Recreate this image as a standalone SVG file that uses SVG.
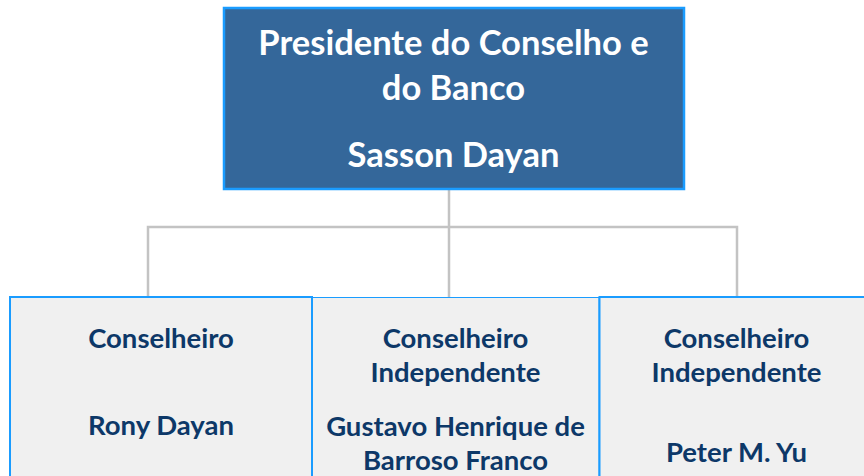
<svg xmlns="http://www.w3.org/2000/svg" width="864" height="476" viewBox="0 0 864 476">
<style>
.top{fill:#34679a;stroke:#1a9cff;stroke-width:2.5}
.sub{fill:#f0f0f0;stroke:#1a9cff}
.tt{font-family:"Lato","Liberation Sans",sans-serif;font-weight:bold;font-size:34.5px;fill:#ffffff;text-anchor:middle}
.st{font-family:"Lato","Liberation Sans",sans-serif;font-weight:bold;font-size:27.5px;fill:#0d3868;text-anchor:middle}
.conn{fill:none;stroke:#c3c3c3;stroke-width:2.5}
</style>
<rect width="864" height="476" fill="#ffffff"/>
<g id="connectors">
<path class="conn" d="M449,189 V297"/>
<path class="conn" d="M148,297 V227 H737 V297"/>
</g>
<g id="n-presidente">
<rect class="top" x="224" y="8" width="460" height="181"/>
<text class="tt" x="453.5" y="55">Presidente do Conselho e</text>
<text class="tt" x="453.5" y="100">do Banco</text>
<text class="tt" x="453.5" y="167">Sasson Dayan</text>
</g>
<g id="n-middle">
<rect class="sub" x="312" y="297.5" width="287" height="190" stroke-width="1"/>
<text class="st" x="455.5" y="348">Conselheiro</text>
<text class="st" x="455.5" y="382">Independente</text>
<text class="st" x="455.5" y="436">Gustavo Henrique de</text>
<text class="st" x="455.5" y="470">Barroso Franco</text>
</g>
<g id="n-rony">
<rect class="sub" x="10" y="297" width="302" height="190" stroke-width="2"/>
<text class="st" x="161" y="348">Conselheiro</text>
<text class="st" x="161" y="435">Rony Dayan</text>
</g>
<g id="n-peter">
<rect class="sub" x="599.5" y="297" width="280" height="190" stroke-width="2"/>
<text class="st" x="736.5" y="348">Conselheiro</text>
<text class="st" x="736.5" y="382">Independente</text>
<text class="st" x="736.5" y="462">Peter M. Yu</text>
</g>
</svg>
